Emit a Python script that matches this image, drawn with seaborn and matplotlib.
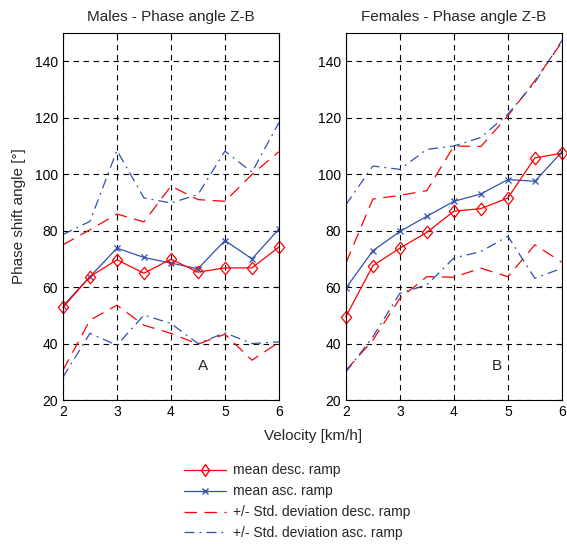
import numpy as np
import pandas as pd
import matplotlib
matplotlib.use("Agg")
import matplotlib.pyplot as plt
import seaborn as sns
from matplotlib.lines import Line2D
from matplotlib.path import Path

velocity = [2, 2.5, 3, 3.5, 4, 4.5, 5, 5.5, 6]

# Males
m_mean_desc = [52.8, 63.7, 69.7, 64.9, 69.9, 65.3, 66.8, 66.8, 74.2]
m_mean_asc = [53.3, 63.7, 73.8, 70.5, 68.5, 66.5, 76.5, 70.0, 80.6]
m_desc_up = [75.0, 80.3, 85.9, 83.1, 95.8, 91.0, 90.4, 99.9, 108.0]
m_desc_lo = [30.5, 48.3, 53.6, 46.5, 43.6, 39.8, 43.3, 34.1, 40.4]
m_asc_up = [78.6, 83.3, 108.4, 91.6, 89.8, 92.8, 108.2, 100.7, 118.3]
m_asc_lo = [28.1, 43.6, 39.4, 50.1, 47.1, 40.0, 43.8, 40.0, 40.6]

# Females
f_mean_desc = [49.5, 67.6, 73.8, 79.4, 86.9, 87.8, 91.6, 105.8, 107.4]
f_mean_asc = [59.6, 72.9, 79.7, 85.1, 90.4, 93.0, 98.1, 97.5, 107.9]
f_desc_up = [68.5, 91.2, 92.5, 94.2, 110.0, 109.8, 120.7, 133.1, 146.8]
f_desc_lo = [30.5, 41.2, 56.0, 63.7, 63.5, 66.7, 63.7, 75.0, 68.8]
f_asc_up = [89.2, 102.9, 101.7, 108.8, 110.0, 113.0, 121.3, 132.5, 147.4]
f_asc_lo = [29.9, 42.4, 57.8, 60.8, 70.3, 72.6, 78.0, 63.1, 66.7]

titles = ["Males - Phase angle Z-B", "Females - Phase angle Z-B"]
panel_labels = ["A", "B"]
legend_labels = ["mean desc. ramp", "mean asc. ramp",
                 "+/- Std. deviation desc. ramp", "+/- Std. deviation asc. ramp"]
xticks = [2, 3, 4, 5, 6]
yticks = [20, 40, 60, 80, 100, 120, 140]

sns.set_style("white")
plt.rcParams['font.family'] = ['Liberation Sans', 'DejaVu Sans']
plt.rcParams['xtick.direction'] = 'in'
plt.rcParams['ytick.direction'] = 'in'

RED = "#ff0000"
BLUE = "#3050b0"
DASH = (0, (10, 6))
DASHDOT = (0, (8, 4, 1.5, 4))

diamond = Path([(0, 1), (0.82, 0), (0, -1), (-0.82, 0), (0, 1)],
               [Path.MOVETO, Path.LINETO, Path.LINETO, Path.LINETO, Path.CLOSEPOLY])

fig = plt.figure(figsize=(5.67, 5.44), dpi=100)
ax1 = fig.add_axes([0.111, 0.2647, 0.381, 0.6745])
ax2 = fig.add_axes([0.610, 0.2647, 0.381, 0.6745])

panels = [
    (ax1, m_mean_desc, m_mean_asc, m_desc_up, m_desc_lo, m_asc_up, m_asc_lo),
    (ax2, f_mean_desc, f_mean_asc, f_desc_up, f_desc_lo, f_asc_up, f_asc_lo),
]

for i, (ax, md, ma, du, dl, au, al) in enumerate(panels):
    for vals in (du, dl):
        sns.lineplot(x=velocity, y=vals, ax=ax, color=RED, lw=0.9,
                     linestyle=DASH, errorbar=None)
    for vals in (au, al):
        sns.lineplot(x=velocity, y=vals, ax=ax, color=BLUE, lw=0.9,
                     linestyle=DASHDOT, errorbar=None)
    sns.lineplot(x=velocity, y=ma, ax=ax, color=BLUE, lw=0.9, marker='x',
                 markersize=5, markeredgewidth=0.9, markeredgecolor=BLUE,
                 errorbar=None)
    sns.lineplot(x=velocity, y=md, ax=ax, color=RED, lw=0.9, marker=diamond,
                 markersize=9, markerfacecolor='none', markeredgecolor=RED,
                 markeredgewidth=0.9, errorbar=None, clip_on=False)
    ax.set_xlim(2, 6)
    ax.set_ylim(20, 150)
    ax.set_xticks(xticks)
    ax.set_yticks(yticks)
    ax.tick_params(labelsize=10, length=3, width=0.8, colors='black',
                   top=True, right=True)
    ax.grid(True, color='black', linestyle=(0, (5, 4)), lw=0.8)
    for s in ax.spines.values():
        s.set_visible(True)
        s.set_color('black')
        s.set_linewidth(0.8)
    ax.set_title(titles[i], fontsize=11, pad=9)
    ax.set_xlabel("")
    ax.set_ylabel("")
    ax.text(4.6 if i == 0 else 4.8, 32, panel_labels[i], fontsize=11,
            ha='center', va='center')

ax1.set_ylabel("Phase shift angle [°]", fontsize=11, labelpad=6)
fig.text(0.552, 0.199, "Velocity [km/h]", fontsize=11, ha='center', va='center')

handles = [
    Line2D([], [], color=RED, lw=0.9, marker='d', markersize=6,
           markerfacecolor='none', markeredgecolor=RED),
    Line2D([], [], color=BLUE, lw=0.9, marker='x', markersize=4),
    Line2D([], [], color=RED, lw=0.9, linestyle=DASH),
    Line2D([], [], color=BLUE, lw=0.9, linestyle=DASHDOT),
]
fig.legend(handles, legend_labels, loc='upper left',
           bbox_to_anchor=(0.325, 0.148), frameon=False, fontsize=10,
           handlelength=3.0, handletextpad=0.5, labelspacing=0.5,
           borderaxespad=0, borderpad=0)

fig.savefig("out.png", dpi=100)
